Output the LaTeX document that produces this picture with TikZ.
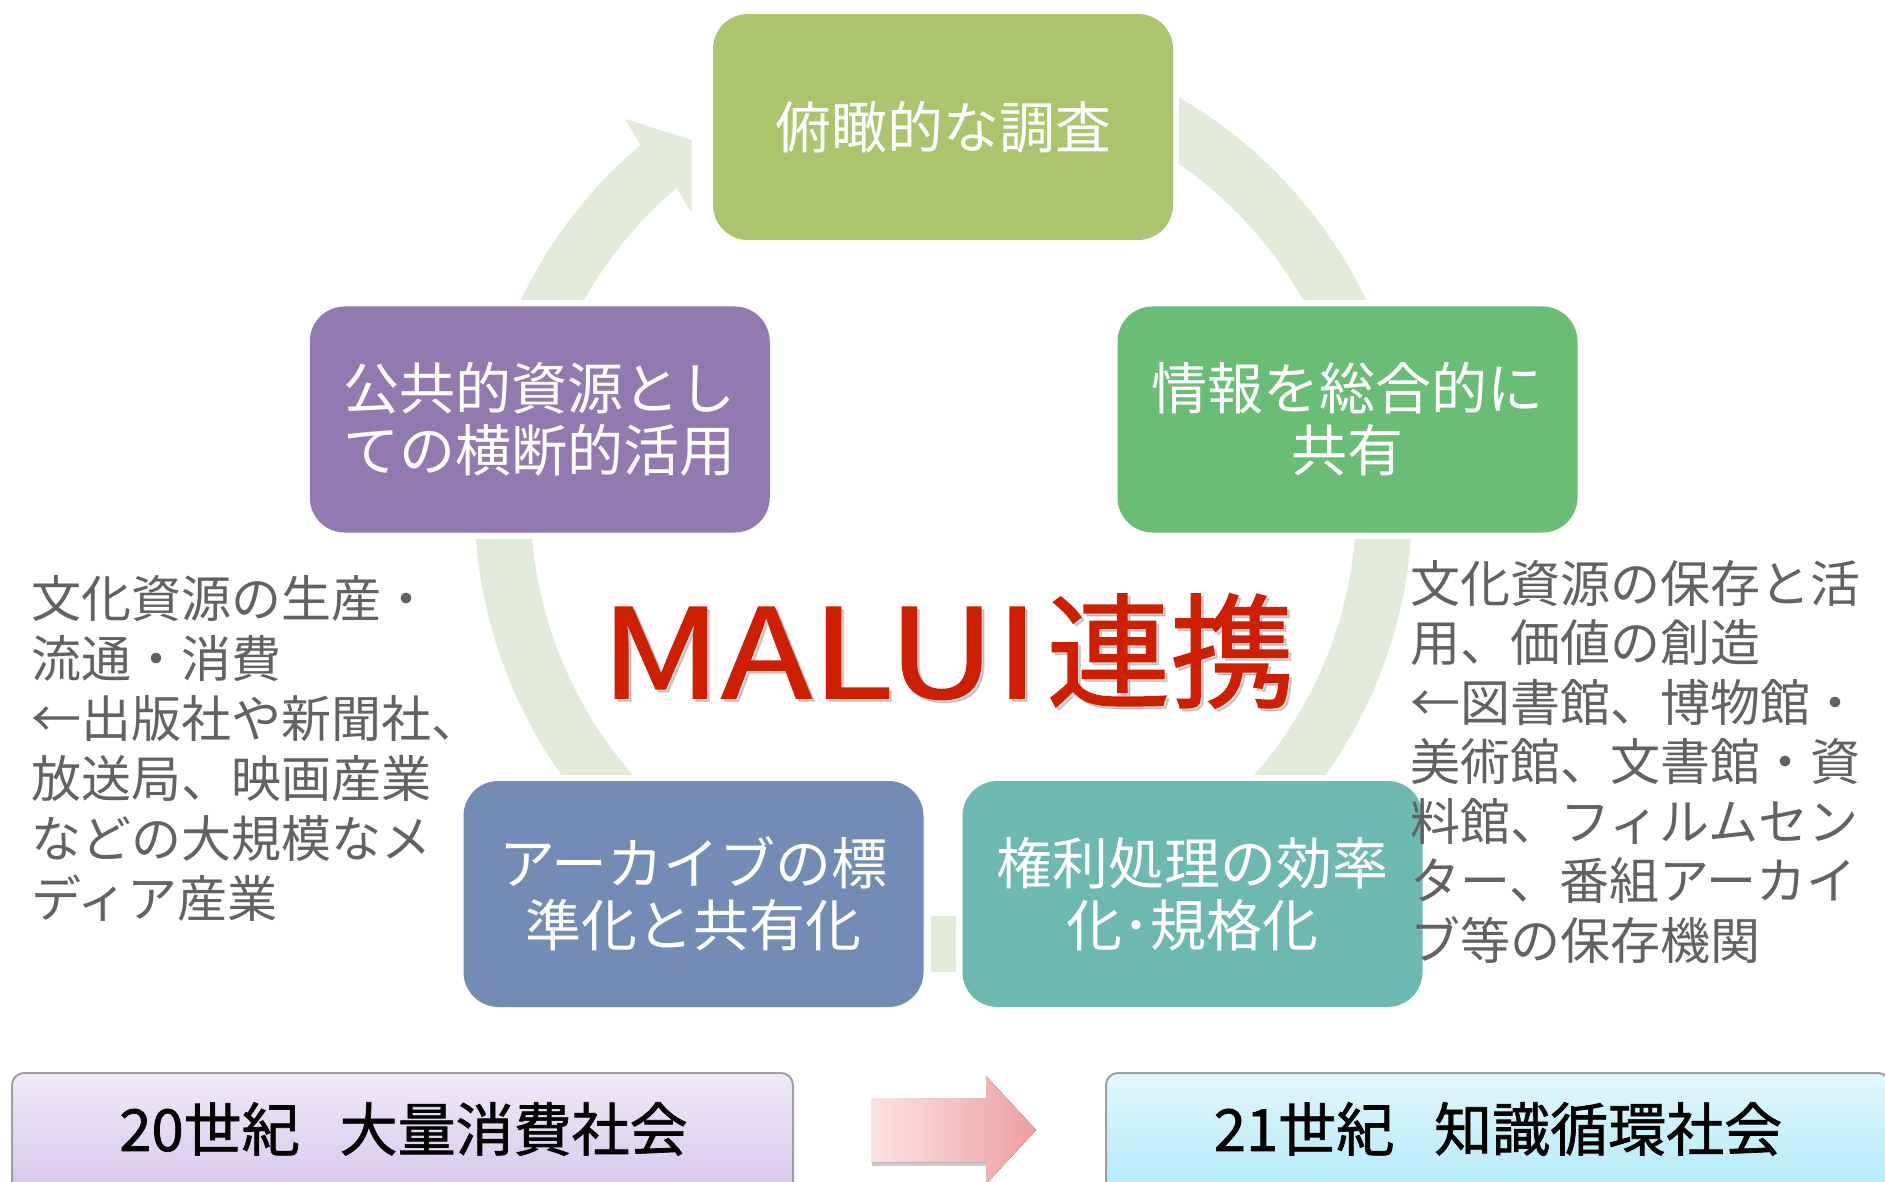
\documentclass[tikz,border=0pt]{standalone}
\usepackage{fontspec}
\newfontfamily\jp{Noto Sans CJK JP}
\newfontfamily\jpheavy[FakeBold=1.2]{Noto Sans CJK JP}
\usetikzlibrary{shadings}
\definecolor{ringc}{RGB}{226,235,218}
\definecolor{ctop}{RGB}{171,196,109}
\definecolor{cpur}{RGB}{146,122,176}
\definecolor{cgrn}{RGB}{105,189,117}
\definecolor{cblu}{RGB}{114,140,181}
\definecolor{cteal}{RGB}{109,185,178}
\definecolor{malred}{RGB}{206,32,0}
\definecolor{txtgray}{RGB}{98,98,98}
\definecolor{lavtop}{RGB}{239,233,248}
\definecolor{lavbot}{RGB}{210,194,234}
\definecolor{cyatop}{RGB}{226,246,252}
\definecolor{cyabot}{RGB}{170,232,248}
\definecolor{arrl}{RGB}{249,226,226}
\definecolor{arrr}{RGB}{238,160,160}
\tikzset{
  cyc/.style={rectangle, rounded corners=17.5pt, minimum width=230pt, minimum height=113pt,
    text=white, font=\jp\fontsize{28}{31}\selectfont, align=center, inner sep=0pt},
  sidetxt/.style={anchor=base west, inner sep=0pt, text=txtgray, font=\jp\fontsize{25}{30}\selectfont},
  eraband/.style={rectangle, rounded corners=6pt, draw=gray!75, line width=1pt},
  eralabel/.style={inner sep=0pt, text=black, font=\jpheavy\fontsize{29}{32}\selectfont},
  titletxt/.style={anchor=base west, inner sep=0pt, font=\jpheavy\fontsize{62}{70}\selectfont}
}
\begin{document}
\begin{tikzpicture}[x=0.5pt,y=-0.5pt]
\useasboundingbox (0,0) rectangle (1885,1182);
\clip (0,0) rectangle (1885,1182);
\fill[white] (0,0) rectangle (1885,1182);
% cycle ring
\fill[ringc] plot[domain=229.7:-90,samples=150] ({943.5+469*cos(\x)},{503+469*sin(\x)})
  -- plot[domain=-90:229.7,samples=150] ({943.5+413*cos(\x)},{503+413*sin(\x)}) -- cycle;
\fill[ringc] (676.6,187.8) -- (640.3,145.2) -- (625.3,119) -- (691.5,140) -- (691.5,213) -- cycle;
% gaps round the boxes
\fill[white] (691.5,0) rectangle (1179,246);
\fill[white] (300,300.5) rectangle (780,539);
\fill[white] (1100,300.5) rectangle (1600,539);
\fill[white] (440,775) rectangle (931,1030);
\fill[white] (956,775) rectangle (1440,1030);
% boxes
\node[cyc, fill=ctop] (top) at (943,127) {俯瞰的な調査};
\node[cyc, fill=cpur] (left) at (539.75,419.5) {公共的資源とし\\ての横断的活用};
\node[cyc, fill=cgrn] (right) at (1347.5,419.5) {情報を総合的に\\共有};
\node[cyc, fill=cblu] (bl) at (693.5,894) {アーカイブの標\\準化と共有化};
\node[cyc, fill=cteal] (br) at (1192.5,894) {権利処理の効率\\化･規格化};
% title
\node[titletxt, text=black, opacity=0.15] (malsh) at (603,701) {\scalebox{1.2}[1]{MALUI}\hspace{4pt}連携};
\node[titletxt, text=malred] (mal) at (600,698) {\scalebox{1.2}[1]{MALUI}\hspace{4pt}連携};
% side texts
\foreach \t [count=\i] in {文化資源の生産・,流通・消費,←出版社や新聞社、,放送局、映画産業,などの大規模なメ,ディア産業}
  \node[sidetxt] (l\i) at (31,{617+60*(\i-1)}) {\t};
\foreach \t [count=\i] in {文化資源の保存と活,用、価値の創造,←図書館、博物館・,美術館、文書館・資,料館、フィルムセン,ター、番組アーカイ,ブ等の保存機関}
  \node[sidetxt] (r\i) at (1410,{602+59.5*(\i-1)}) {\t};
% era bands
\node[eraband, minimum width=390.5pt, minimum height=70pt, top color=lavtop, bottom color=lavbot] (e20) at (402.5,1143) {};
\node[eraband, minimum width=392pt, minimum height=70pt, top color=cyatop, bottom color=cyabot] (e21) at (1498,1143) {};
\node[eralabel] (t20) at (403.5,1129) {20世紀\hspace{20pt}大量消費社会};
\node[eralabel] (t21) at (1498,1129) {21世紀\hspace{20pt}知識循環社会};
% arrow
\fill[black, opacity=0.2] (872,1103) -- (987,1103) -- (987,1166) -- (872,1166) -- cycle;
\fill[left color=arrl, right color=arrr] (871,1098) -- (986,1098) -- (986,1076) -- (1036,1130) -- (986,1184) -- (986,1162) -- (871,1162) -- cycle;
\end{tikzpicture}
\end{document}
